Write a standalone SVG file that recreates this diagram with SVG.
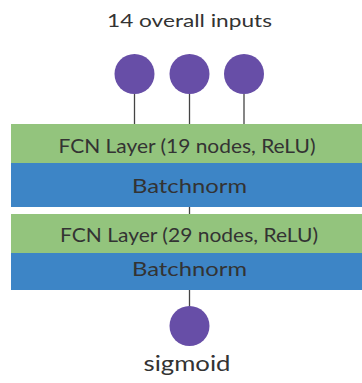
<svg xmlns="http://www.w3.org/2000/svg" width="362" height="383" viewBox="0 0 362 383">
<style>
.txt{font-family:"Lato","DejaVu Sans",sans-serif;fill:#333333;text-anchor:middle}
.fcn{fill:#93c47d}
.bn{fill:#3d85c6}
.node{fill:#674ea7}
.conn line{stroke:#444;stroke-width:1.3}
</style>
<rect width="362" height="383" fill="#ffffff"/>
<text class="txt" x="189.5" y="27" font-size="18" textLength="165" lengthAdjust="spacingAndGlyphs">14 overall inputs</text>
<g class="conn" id="connectors">
<line x1="134.5" y1="94" x2="134.5" y2="124"/>
<line x1="189.5" y1="94" x2="189.5" y2="124"/>
<line x1="244" y1="94" x2="244" y2="124"/>
<line x1="189.5" y1="207" x2="189.5" y2="214"/>
<line x1="189.5" y1="290" x2="189.5" y2="307"/>
</g>
<g id="input1"><circle class="node" cx="134.5" cy="74" r="20"/></g>
<g id="input2"><circle class="node" cx="189.5" cy="74" r="20"/></g>
<g id="input3"><circle class="node" cx="244" cy="74" r="20"/></g>
<g id="fcn1"><rect class="fcn" x="11" y="124" width="351" height="39"/>
<text class="txt" x="187" y="153" font-size="19" textLength="257" lengthAdjust="spacingAndGlyphs">FCN Layer (19 nodes, ReLU)</text></g>
<g id="bn1"><rect class="bn" x="11" y="163" width="351" height="44"/>
<text class="txt" x="189.5" y="193" font-size="19" textLength="115" lengthAdjust="spacingAndGlyphs">Batchnorm</text></g>
<g id="fcn2"><rect class="fcn" x="11" y="214" width="351" height="39"/>
<text class="txt" x="189" y="242" font-size="19" textLength="258" lengthAdjust="spacingAndGlyphs">FCN Layer (29 nodes, ReLU)</text></g>
<g id="bn2"><rect class="bn" x="11" y="253" width="351" height="37"/>
<text class="txt" x="189.5" y="276" font-size="19" textLength="115" lengthAdjust="spacingAndGlyphs">Batchnorm</text></g>
<g id="output"><circle class="node" cx="189.5" cy="326" r="20"/></g>
<text class="txt" x="187" y="371" font-size="21" textLength="87" lengthAdjust="spacingAndGlyphs">sigmoid</text>
</svg>
